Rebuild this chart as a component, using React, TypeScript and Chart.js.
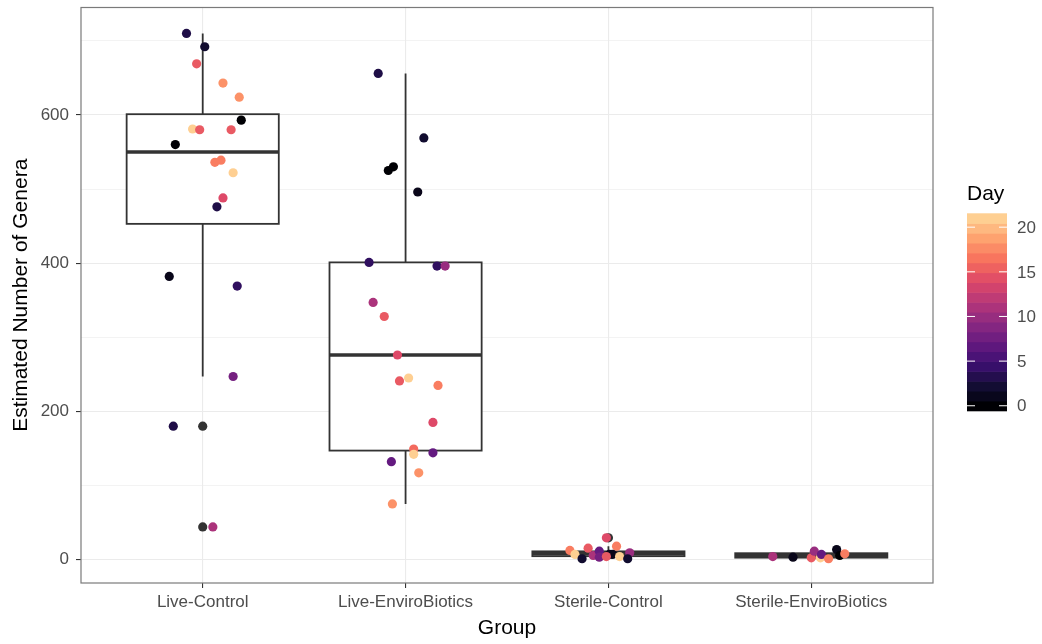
import React, { useEffect, useRef } from 'react';
import { Chart, registerables } from 'chart.js';

Chart.register(...registerables);

const FONT = '"Liberation Sans", Arial, Helvetica, sans-serif';

const categories = ['Live-Control', 'Live-EnviroBiotics', 'Sterile-Control', 'Sterile-EnviroBiotics'];
const yTickValues = [0, 100, 200, 300, 400, 500, 600, 700];
const dayTicks = [0, 5, 10, 15, 20];
const dayMax = 21;

// Box statistics per group
const whiskerLow = [247, 75, 1, 1];
const q1 = [453, 147, 4.5, 2.5];
const median = [550, 276, 8, 5.5];
const q3 = [601, 401, 11, 8.5];
const whiskerHigh = [710, 656, 18, 13.5];
const outlierGroup = [1, 1, 3];
const outlierValue = [180, 44, 29.3];

// Jittered observations
const liveControlValues = [710, 692, 669, 643, 624, 593, 581, 580, 580, 560, 536, 539, 522, 488, 476, 382, 369, 247, 180, 44];
const liveControlJitter = [-0.08, 0.01, -0.03, 0.1, 0.18, 0.19, -0.05, -0.015, 0.14, -0.135, 0.06, 0.09, 0.15, 0.1, 0.07, -0.165, 0.17, 0.15, -0.145, 0.05];
const liveControlDays = [3, 2, 15, 18, 18, 0, 21, 15, 15, 0, 17, 17, 21, 14, 3, 1, 4, 8, 3, 11];

const liveEnviroValues = [656, 569, 525, 530, 496, 401, 396, 396, 347, 328, 276, 241, 245, 235, 185, 149, 142, 144, 132, 117, 75];
const liveEnviroJitter = [-0.135, 0.09, -0.085, -0.06, 0.06, -0.18, 0.155, 0.195, -0.16, -0.105, -0.04, -0.03, 0.015, 0.16, 0.135, 0.04, 0.04, 0.135, -0.07, 0.065, -0.065];
const liveEnviroDays = [3, 2, 0, 0, 1, 4, 4, 10, 11, 15, 14, 15, 21, 17, 14, 16, 21, 7, 7, 18, 18];

const sterileControlValues = [29.3, 12.2, 15.3, 18, 6.8, 1, 5.4, 11.2, 3.1, 6.8, 6.8, 4, 9, 1, 4];
const sterileControlJitter = [-0.01, -0.19, -0.1, 0.04, -0.165, -0.13, -0.075, -0.045, -0.045, 0.005, 0.02, 0.055, 0.105, 0.095, -0.01];
const sterileControlDays = [14, 17, 15, 17, 21, 2, 11, 7, 8, 1, 1, 21, 10, 2, 15];

const sterileEnviroValues = [4, 3.1, 2.3, 11.2, 2.3, 6.8, 1, 13.5, 5.4, 7.7];
const sterileEnviroJitter = [-0.19, -0.09, 0, 0.015, 0.045, 0.05, 0.085, 0.125, 0.14, 0.165];
const sterileEnviroDays = [11, 1, 15, 10, 21, 7, 17, 1, 0, 17];

// magma palette stops (0..1)
const magmaStops = ['#000004', '#140E36', '#3B0F70', '#641A80', '#8C2981', '#B73779', '#DE4968', '#F7705C', '#FE9F6D', '#FECF92', '#FCFDBF'];

function hexToRgb(h: string) {
  return [parseInt(h.slice(1, 3), 16), parseInt(h.slice(3, 5), 16), parseInt(h.slice(5, 7), 16)];
}
function magma(t: number) {
  const tt = Math.max(0, Math.min(1, t)) * (magmaStops.length - 1);
  const i = Math.min(Math.floor(tt), magmaStops.length - 2);
  const f = tt - i;
  const a = hexToRgb(magmaStops[i]);
  const b = hexToRgb(magmaStops[i + 1]);
  const c = a.map((v, k) => Math.round(v + (b[k] - v) * f));
  return `rgb(${c[0]},${c[1]},${c[2]})`;
}
function dayColor(d: number) {
  return magma((d / dayMax) * 0.9);
}

const groups = [
  { values: liveControlValues, jitter: liveControlJitter, days: liveControlDays },
  { values: liveEnviroValues, jitter: liveEnviroJitter, days: liveEnviroDays },
  { values: sterileControlValues, jitter: sterileControlJitter, days: sterileControlDays },
  { values: sterileEnviroValues, jitter: sterileEnviroJitter, days: sterileEnviroDays },
];

const boxPlugin = {
  id: 'boxes',
  beforeDatasetsDraw(chart: any) {
    const { ctx } = chart;
    const xs = chart.scales.x;
    const ys = chart.scales.y;
    const halfW = 0.375;
    ctx.save();
    for (let i = 0; i < categories.length; i++) {
      const c = xs.getPixelForValue(i + 1);
      const l = xs.getPixelForValue(i + 1 - halfW);
      const r = xs.getPixelForValue(i + 1 + halfW);
      const yLo = ys.getPixelForValue(whiskerLow[i]);
      const yQ1 = ys.getPixelForValue(q1[i]);
      const yMed = ys.getPixelForValue(median[i]);
      const yQ3 = ys.getPixelForValue(q3[i]);
      const yHi = ys.getPixelForValue(whiskerHigh[i]);
      ctx.strokeStyle = '#333333';
      ctx.lineWidth = 1.8;
      ctx.beginPath();
      ctx.moveTo(c, yHi);
      ctx.lineTo(c, yQ3);
      ctx.moveTo(c, yQ1);
      ctx.lineTo(c, yLo);
      ctx.stroke();
      ctx.fillStyle = '#ffffff';
      ctx.fillRect(l, yQ3, r - l, yQ1 - yQ3);
      ctx.strokeRect(l, yQ3, r - l, yQ1 - yQ3);
      ctx.lineWidth = 3.6;
      ctx.beginPath();
      ctx.moveTo(l, yMed);
      ctx.lineTo(r, yMed);
      ctx.stroke();
    }
    ctx.restore();
  },
};

const framePlugin = {
  id: 'frameAndLegend',
  afterDraw(chart: any) {
    const { ctx, chartArea } = chart;
    ctx.save();
    ctx.strokeStyle = '#7a7a7a';
    ctx.lineWidth = 1.2;
    ctx.strokeRect(chartArea.left, chartArea.top, chartArea.right - chartArea.left, chartArea.bottom - chartArea.top);

    // colorbar legend
    const bx = 967;
    const bw = 40;
    const bTop = 213.3;
    const bBottom = 410.7;
    const nbin = 20;
    const binH = (bBottom - bTop) / nbin;
    for (let i = 0; i < nbin; i++) {
      const v = (i / (nbin - 1)) * dayMax;
      ctx.fillStyle = dayColor(v);
      const y0 = bBottom - (i + 1) * binH;
      ctx.fillRect(bx, y0, bw, binH + 0.6);
    }
    ctx.font = `21px ${FONT}`;
    ctx.fillStyle = '#000000';
    ctx.textAlign = 'left';
    ctx.textBaseline = 'alphabetic';
    ctx.fillText('Day', 967, 200);
    ctx.font = `17px ${FONT}`;
    ctx.fillStyle = '#4D4D4D';
    ctx.textBaseline = 'middle';
    ctx.strokeStyle = '#ffffff';
    ctx.lineWidth = 1;
    for (const d of dayTicks) {
      const y = bBottom - (0.5 + (d / dayMax) * (nbin - 1)) * binH;
      ctx.beginPath();
      ctx.moveTo(bx, y);
      ctx.lineTo(bx + 8, y);
      ctx.moveTo(bx + bw - 8, y);
      ctx.lineTo(bx + bw, y);
      ctx.stroke();
      ctx.fillText(String(d), 1017, y + 1);
    }
    ctx.restore();
  },
};

export default function App() {
  const ref = useRef<HTMLCanvasElement | null>(null);
  useEffect(() => {
    if (!ref.current) return;
    const pts: any[] = [];
    const cols: string[] = [];
    groups.forEach((g, gi) => {
      g.values.forEach((v, k) => {
        pts.push({ x: gi + 1 + g.jitter[k], y: v });
        cols.push(dayColor(g.days[k]));
      });
    });
    const outliers = outlierValue.map((v, k) => ({ x: outlierGroup[k], y: v }));
    const chart = new Chart(ref.current, {
      type: 'scatter',
      data: {
        datasets: [
          {
            label: 'points',
            data: pts,
            pointBackgroundColor: cols,
            pointBorderWidth: 0,
            pointRadius: 4.6,
            order: 1,
          },
          {
            label: 'outliers',
            data: outliers,
            pointBackgroundColor: '#333333',
            pointBorderWidth: 0,
            pointRadius: 4.6,
            order: 2,
          },
        ],
      },
      options: {
        responsive: false,
        animation: false,
        layout: { padding: { left: 0, right: 109, top: 7.5, bottom: 0 } },
        plugins: { legend: { display: false }, tooltip: { enabled: false } },
        scales: {
          x: {
            type: 'linear',
            min: 0.4,
            max: 4.6,
            afterBuildTicks: (s: any) => {
              s.ticks = categories.map((_, i) => ({ value: i + 1 }));
            },
            afterFit: (s: any) => {
              s.height = 61;
              s.paddingLeft = 0;
              s.paddingRight = 0;
            },
            border: { display: false },
            grid: { color: '#EBEBEB', lineWidth: 1.1, tickColor: '#333333', tickLength: 5, tickWidth: 1.1 },
            ticks: {
              autoSkip: false,
              maxRotation: 0,
              padding: 4,
              color: '#4D4D4D',
              font: { size: 17, family: FONT },
              callback: (v: any) => categories[Math.round(Number(v)) - 1] ?? '',
            },
            title: {
              display: true,
              text: 'Group',
              color: '#000000',
              font: { size: 21, family: FONT },
              padding: { top: 0, bottom: 3 },
            },
          },
          y: {
            type: 'linear',
            min: -31.7,
            max: 745,
            afterBuildTicks: (s: any) => {
              s.ticks = yTickValues.map((v) => ({ value: v }));
            },
            afterFit: (s: any) => {
              s.width = 81;
              s.paddingTop = 0;
              s.paddingBottom = 0;
            },
            border: { display: false },
            grid: {
              color: '#EBEBEB',
              lineWidth: (c: any) => (c.tick && c.tick.value % 200 === 0 ? 1.1 : 0.6),
              tickColor: (c: any) => (c.tick && c.tick.value % 200 === 0 ? '#333333' : 'rgba(0,0,0,0)'),
              tickLength: 5,
              tickWidth: 1.1,
            },
            ticks: {
              autoSkip: false,
              padding: 7,
              color: '#4D4D4D',
              font: { size: 17, family: FONT },
              callback: (v: any) => (Number(v) % 200 === 0 ? String(v) : ''),
            },
            title: {
              display: true,
              text: 'Estimated Number of Genera',
              color: '#000000',
              font: { size: 21, family: FONT },
              padding: { top: 9, bottom: 0 },
            },
          },
        },
      },
      plugins: [boxPlugin, framePlugin],
    } as any);
    return () => chart.destroy();
  }, []);
  return (
    <div style={{ position: 'absolute', left: 0, top: 0, width: 1042, height: 644, background: '#fff' }}>
      <canvas ref={ref} width={1042} height={644} style={{ display: 'block' }} />
    </div>
  );
}
